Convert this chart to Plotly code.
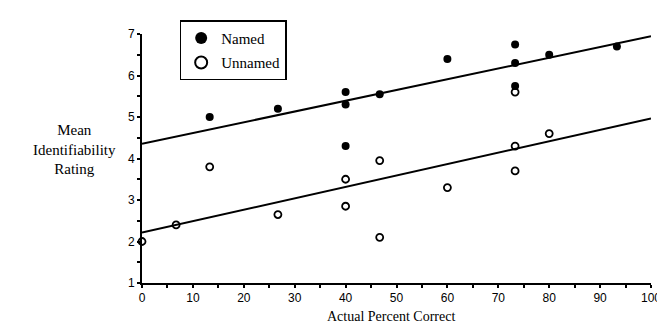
import numpy as np
import plotly.graph_objects as go

# Data
named_x = [13.3, 26.7, 40, 40, 40, 46.7, 60, 73.3, 73.3, 73.3, 80, 93.3]
named_y = [5.0, 5.2, 5.6, 5.3, 4.3, 5.55, 6.4, 6.75, 6.3, 5.75, 6.5, 6.7]
unnamed_x = [0, 6.7, 13.3, 26.7, 40, 40, 46.7, 46.7, 60, 73.3, 73.3, 73.3, 80]
unnamed_y = [2.0, 2.4, 3.8, 2.65, 3.5, 2.85, 3.95, 2.1, 3.3, 3.7, 4.3, 5.6, 4.6]
x_ticks = [0, 10, 20, 30, 40, 50, 60, 70, 80, 90, 100]
y_ticks = [1, 2, 3, 4, 5, 6, 7]

serif = "Liberation Serif, Times New Roman, serif"
sans = "Liberation Sans, Arial, sans-serif"

fit_x = np.array([0, 100])
nb, na = np.polyfit(named_x, named_y, 1)
ub, ua = np.polyfit(unnamed_x, unnamed_y, 1)

fig = go.Figure()
fig.add_trace(go.Scatter(x=fit_x, y=na + nb * fit_x, mode="lines",
                         line=dict(color="black", width=2), showlegend=False,
                         hoverinfo="skip"))
fig.add_trace(go.Scatter(x=fit_x, y=ua + ub * fit_x, mode="lines",
                         line=dict(color="black", width=2), showlegend=False,
                         hoverinfo="skip"))
fig.add_trace(go.Scatter(x=named_x, y=named_y, mode="markers", name="Named",
                         legendgroup="a",
                         marker=dict(symbol="circle", size=8, color="black"),
                         cliponaxis=False))
fig.add_trace(go.Scatter(x=unnamed_x, y=unnamed_y, mode="markers", name="Unnamed",
                         legendgroup="b",
                         marker=dict(symbol="circle-open", size=7, color="black",
                                     line=dict(width=1.8)),
                         cliponaxis=False))

fig.update_layout(
    width=665, height=325,
    margin=dict(l=134, r=16, t=21, b=50),
    paper_bgcolor="white", plot_bgcolor="white",
    showlegend=True,
    legend=dict(x=0.074, y=1.055, xanchor="left", yanchor="top",
                bordercolor="black", borderwidth=1.5, bgcolor="white",
                font=dict(family=serif, size=15, color="black"),
                tracegroupgap=2, itemsizing="constant",
                entrywidth=82, entrywidthmode="pixels"),
    xaxis=dict(range=[0, 100], tickvals=x_ticks, ticks="outside", ticklen=3,
               tickwidth=1.5, tickcolor="black",
               showline=True, linecolor="black", linewidth=2,
               showgrid=False, zeroline=False,
               minor=dict(dtick=5, tick0=0, ticks="outside", ticklen=3,
                          tickcolor="black", showgrid=False),
               tickfont=dict(family=sans, size=12, color="black")),
    yaxis=dict(range=[1, 7], tickvals=y_ticks, ticks="outside", ticklen=3,
               tickwidth=1.5, tickcolor="black",
               showline=True, linecolor="black", linewidth=2,
               showgrid=False, zeroline=False,
               minor=dict(dtick=0.5, tick0=1, ticks="outside", ticklen=3,
                          tickcolor="black", showgrid=False),
               tickfont=dict(family=sans, size=12, color="black")),
    annotations=[
        dict(text="Actual Percent Correct", xref="paper", yref="paper",
             x=0.49, y=-0.136, xanchor="center", yanchor="middle",
             showarrow=False, font=dict(family=serif, size=14, color="black")),
        dict(text="Mean<br>Identifiability<br>Rating", xref="paper", yref="paper",
             x=-0.132, y=0.535, xanchor="center", yanchor="middle",
             showarrow=False, align="center",
             font=dict(family=serif, size=15, color="black")),
    ],
)

fig.write_html("out.html")
